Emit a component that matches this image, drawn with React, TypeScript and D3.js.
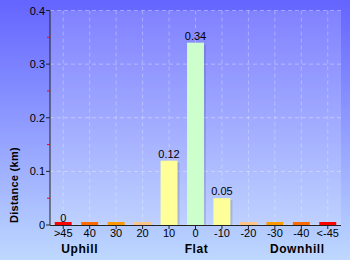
import React from "react";
import * as d3 from "d3";

const categories = [">45", "40", "30", "20", "10", "0", "-10", "-20", "-30", "-40", "<-45"];
const values = [0, 0, 0, 0, 0.12, 0.34, 0.05, 0, 0, 0, 0];
const valueLabels = ["0", "", "", "", "0.12", "0.34", "0.05", "", "", "", ""];
const barColors = ["#ff0000", "#ff6a00", "#ff9900", "#ffc488", "#ffff99", "#ccffcc", "#ffff99", "#ffc488", "#ff9900", "#ff6a00", "#ff0000"];
const yTicks = [0, 0.1, 0.2, 0.3, 0.4];
const yMinorTicks = [0.05, 0.15, 0.25, 0.35];
const groupLabels = [
  { text: "Uphill", cat: "40", dx: -10 },
  { text: "Flat", cat: "0", dx: 1 },
  { text: "Downhill", cat: "-40", dx: -4 },
];

const W = 350;
const H = 260;
const left = 50;
const right = 341;
const top = 10.5;
const bottom = 225;

export default function App() {
  const x = d3.scaleBand<string>().domain(categories).range([left, right]).padding(0);
  const y = d3.scaleLinear().domain([0, 0.4]).range([bottom, top]);
  const bw = x.bandwidth();
  const barW = bw * 0.64;
  const font = "Liberation Sans, Arial, sans-serif";

  return (
    <svg width={W} height={H} style={{ position: "absolute", left: 0, top: 0 }} fontFamily={font}>
      <defs>
        <linearGradient id="bg" x1="0" y1="0" x2="0" y2="1">
          <stop offset="0%" stopColor="#6464ff" />
          <stop offset="100%" stopColor="#bed8ff" />
        </linearGradient>
      </defs>
      <rect x={0} y={0} width={W} height={H} fill="url(#bg)" />
      <rect x={left} y={top} width={right - left} height={bottom - top} fill="#ffffff" opacity={0.17} />
      {/* grid */}
      {yTicks.map((t) => (
        <line key={"gy" + t} x1={left} x2={right} y1={y(t)} y2={y(t)} stroke="#ffffff" strokeOpacity={0.35} strokeDasharray="4,3" />
      ))}
      {categories.map((c) => (
        <line key={"gx" + c} x1={x(c)! + bw / 2} x2={x(c)! + bw / 2} y1={top} y2={bottom} stroke="#ffffff" strokeOpacity={0.3} strokeDasharray="4,3" />
      ))}
      {/* bars */}
      {categories.map((c, i) => {
        const h = Math.max(bottom - y(values[i]), 3);
        const bx = x(c)! + bw / 2 - barW / 2;
        return (
          <g key={"b" + c}>
            {values[i] > 0 && (
              <rect x={bx + 2} y={bottom - h + 2} width={barW} height={h - 2} fill="#000000" opacity={0.12} />
            )}
            <rect x={bx} y={bottom - h} width={barW} height={h} fill={barColors[i]} />
          </g>
        );
      })}
      {/* value labels */}
      {categories.map((c, i) =>
        valueLabels[i] ? (
          <text key={"v" + c} x={x(c)! + bw / 2} y={y(values[i]) - 3} fontSize={11} textAnchor="middle" fill="#000">
            {valueLabels[i]}
          </text>
        ) : null
      )}
      {/* axes */}
      <line x1={left} x2={left} y1={top} y2={bottom} stroke="#222" />
      <line x1={left} x2={right} y1={bottom + 0.5} y2={bottom + 0.5} stroke="#222" />
      {yTicks.map((t) => (
        <g key={"yt" + t}>
          <line x1={left - 4} x2={left} y1={y(t)} y2={y(t)} stroke="#222" />
          <text x={left - 5} y={y(t) + 4} fontSize={11} textAnchor="end" fill="#000">
            {d3.format("")(t)}
          </text>
        </g>
      ))}
      {yMinorTicks.map((t) => (
        <line key={"ym" + t} x1={left - 3} x2={left} y1={y(t)} y2={y(t)} stroke="#ff0000" />
      ))}
      {categories.map((c) => (
        <g key={"xt" + c}>
          <line x1={x(c)! + bw / 2} x2={x(c)! + bw / 2} y1={bottom} y2={bottom + 4} stroke="#222" />
          <text x={x(c)! + bw / 2} y={bottom + 12} fontSize={11} textAnchor="middle" fill="#000">
            {c}
          </text>
        </g>
      ))}
      {groupLabels.map((g) => (
        <text key={g.text} x={x(g.cat)! + bw / 2 + g.dx} y={253} fontSize={12} fontWeight="bold" letterSpacing={0.6} textAnchor="middle" fill="#000">
          {g.text}
        </text>
      ))}
      <text transform={`translate(18,185) rotate(-90)`} fontSize={11} fontWeight="bold" textAnchor="middle" fill="#000" letterSpacing={0.3}>
        Distance (km)
      </text>
    </svg>
  );
}
